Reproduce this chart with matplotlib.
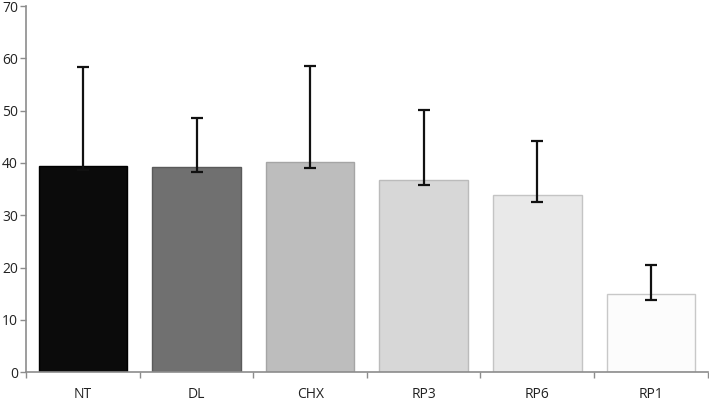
import matplotlib
matplotlib.use("Agg")
import matplotlib.pyplot as plt
import numpy as np

categories = ["NT", "DL", "CHX", "RP3", "RP6", "RP1"]
bar_values = [39.5, 39.2, 40.1, 36.7, 33.8, 15.0]
err_low = [38.6, 38.3, 39.0, 35.7, 32.6, 13.7]
err_high = [58.4, 48.6, 58.6, 50.1, 44.2, 20.4]
colors = ["#0b0b0b", "#707070", "#bdbdbd", "#d7d7d7", "#e9e9e9", "#fcfcfc"]
edges = ["#000000", "#5a5a5a", "#a5a5a5", "#bbbbbb", "#c4c4c4", "#c8c8c8"]
y_ticks = [0, 10, 20, 30, 40, 50, 60, 70]

plt.rcParams['font.family'] = ['Open Sans', 'DejaVu Sans']

fig = plt.figure(figsize=(7.09, 4.01), dpi=100)
ax = fig.add_axes([0.037, 0.072, 0.961, 0.913])

x = np.arange(len(categories))
ax.bar(x, bar_values, width=0.78, color=colors, edgecolor=edges, linewidth=1.0, zorder=2)

low = np.array(err_low)
high = np.array(err_high)
ax.errorbar(x, (low + high) / 2, yerr=(high - low) / 2, fmt='none', ecolor='#111111',
            elinewidth=1.6, capsize=4.5, capthick=1.6, zorder=3)

ax.set_xlim(-0.5, len(categories) - 0.5)
ax.set_ylim(0, 70)
ax.set_yticks(y_ticks)
ax.set_yticklabels([str(t) for t in y_ticks], fontsize=10, color='#222222')

ax.set_xticks(x)
ax.set_xticklabels(categories, fontsize=10, color='#222222')
ax.set_xticks(np.arange(len(categories) + 1) - 0.5, minor=True)
ax.tick_params(axis='x', which='major', length=0, pad=10.5)
ax.tick_params(axis='x', which='minor', length=4, color='#8c8c8c', width=1)
ax.tick_params(axis='y', length=4, color='#8c8c8c', width=1, pad=2)

for s in ['top', 'right']:
    ax.spines[s].set_visible(False)
for s in ['left', 'bottom']:
    ax.spines[s].set_color('#8c8c8c')
    ax.spines[s].set_linewidth(1.2)

fig.savefig("out.png", dpi=100)
